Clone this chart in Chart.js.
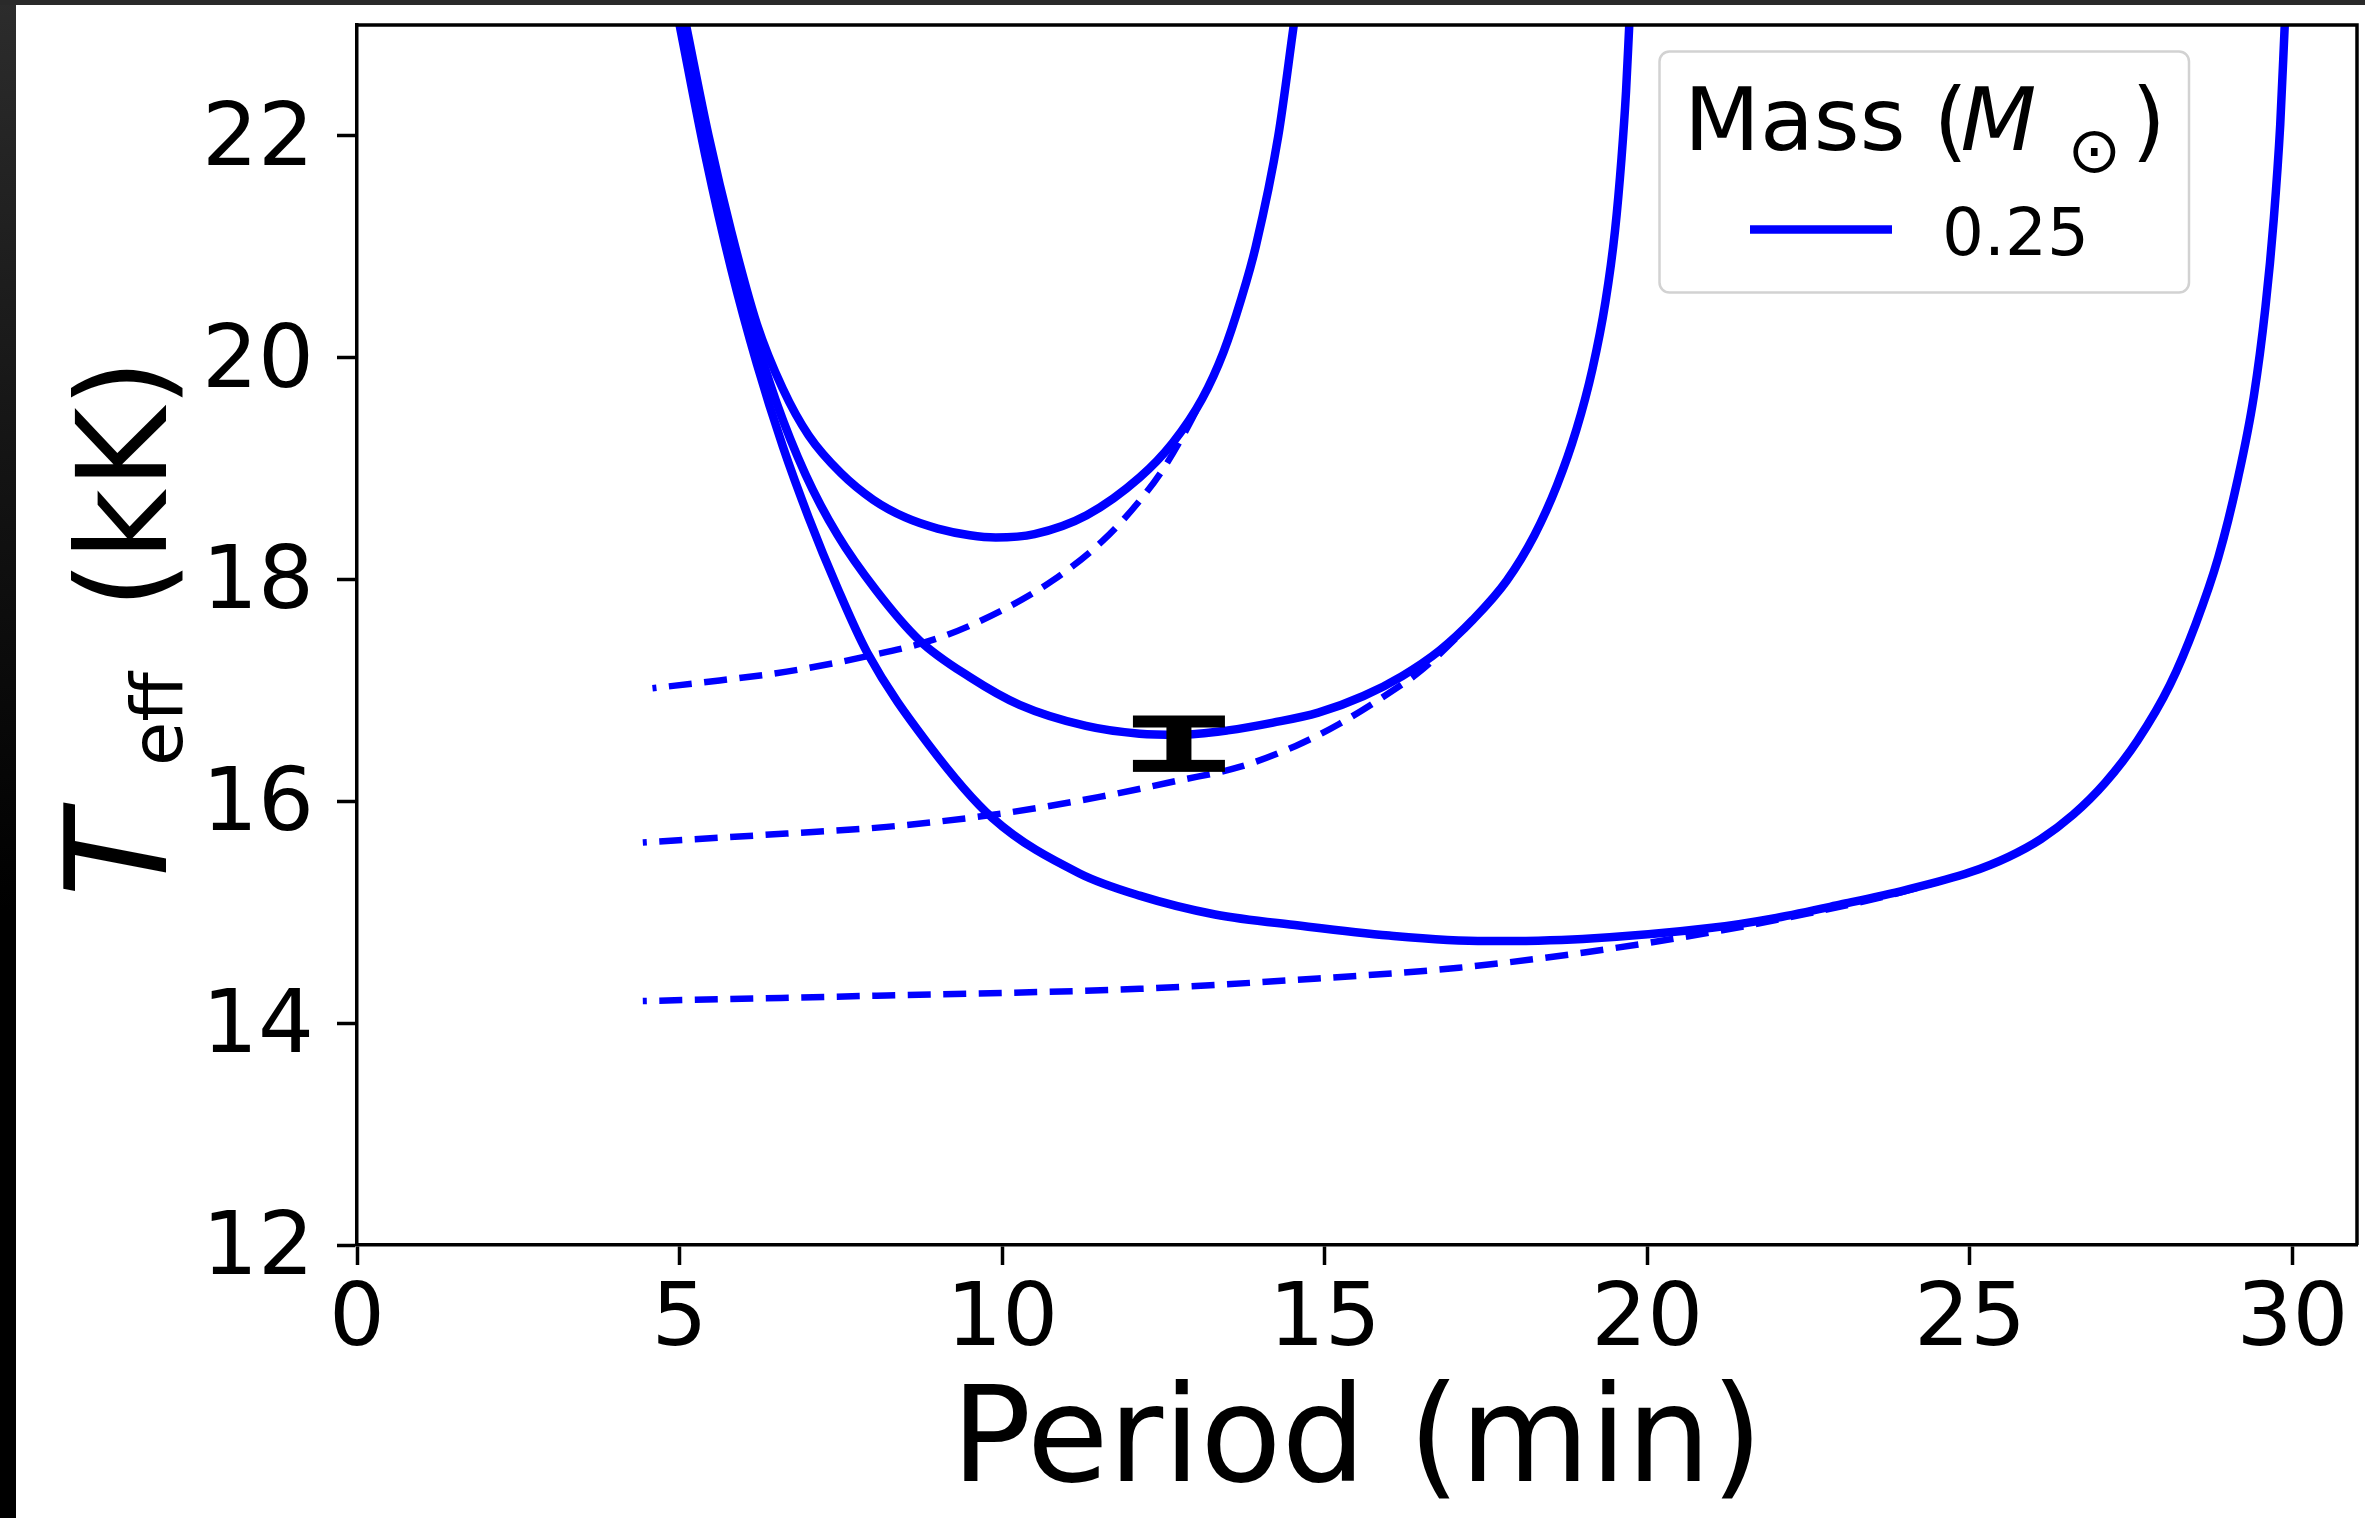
<!DOCTYPE html>
<html>
<head>
<meta charset="utf-8">
<script src="https://cdn.jsdelivr.net/npm/chart.js@4.4.1/dist/chart.umd.min.js"></script>
<style>
  html, body { margin: 0; padding: 0; background: #ffffff; }
  #wrap { position: relative; width: 2365px; height: 1518px; overflow: hidden; background: #ffffff; }
  #c { position: absolute; left: 0; top: 0; }
  #edgeL { position: absolute; left: 0; top: 0; width: 16px; height: 1518px;
           background: linear-gradient(to bottom, #2c2c2c 0%, #141414 30%, #000000 60%); }
  #edgeT { position: absolute; left: 0; top: 0; width: 2365px; height: 5px; background: #2a2a2a; }
</style>
</head>
<body>
<div id="wrap">
  <canvas id="c" width="2365" height="1518"></canvas>
  <div id="edgeL"></div>
  <div id="edgeT"></div>
</div>
<script>
// ---------------- data ----------------
const massLabel = '0.25';
const xTickValues = [0, 5, 10, 15, 20, 25, 30];
const yTickValues = [12, 14, 16, 18, 20, 22];

// solid tracks (period in min, Teff in kK)
const solidA_P = [5.10, 5.45, 5.80, 6.20, 6.60, 7.00, 7.50, 8.00, 8.50, 9.00, 9.50, 9.90, 10.50, 11.31, 12.13, 12.64, 13.10, 13.43, 13.70, 13.93, 14.28, 14.52];
const solidA_T = [23.0, 22.00, 21.14, 20.30, 19.72, 19.30, 18.96, 18.72, 18.56, 18.46, 18.40, 18.38, 18.41, 18.58, 18.92, 19.23, 19.63, 20.05, 20.52, 21.00, 22.00, 23.0];

const solidB_P = [5.05, 5.40, 5.75, 6.10, 6.50, 6.95, 7.45, 8.05, 8.72, 9.50, 10.27, 11.30, 12.13, 12.74, 13.50, 14.20, 14.90, 15.60, 16.20, 16.78, 17.30, 17.82, 18.25, 18.60, 18.90, 19.15, 19.35, 19.50, 19.60, 19.67, 19.72];
const solidB_T = [23.0, 22.00, 21.12, 20.34, 19.60, 18.95, 18.40, 17.90, 17.45, 17.12, 16.87, 16.68, 16.61, 16.60, 16.64, 16.71, 16.80, 16.95, 17.13, 17.36, 17.64, 17.99, 18.40, 18.85, 19.35, 19.90, 20.50, 21.15, 21.80, 22.40, 23.0];

const solidC_P = [5.00, 5.40, 5.80, 6.20, 6.60, 7.00, 7.45, 7.91, 8.85, 9.85, 11.20, 12.13, 13.30, 14.60, 16.00, 17.50, 19.00, 21.00, 22.00, 23.00, 24.00, 25.00, 25.60, 26.10, 26.60, 27.10, 27.60, 28.10, 28.50, 28.85, 29.15, 29.40, 29.58, 29.71, 29.81, 29.88];
const solidC_T = [23.0, 21.82, 20.80, 19.94, 19.20, 18.56, 17.92, 17.34, 16.52, 15.85, 15.35, 15.15, 14.98, 14.88, 14.79, 14.74, 14.76, 14.86, 14.95, 15.07, 15.20, 15.36, 15.50, 15.66, 15.88, 16.17, 16.55, 17.05, 17.60, 18.20, 18.90, 19.65, 20.45, 21.25, 22.10, 23.0];

// dashed tracks
const dashA_P = [4.58, 5.62, 6.66, 7.84, 9.00, 9.99, 10.78, 11.56, 12.13, 12.50, 12.90, 13.10];
const dashA_T = [17.02, 17.09, 17.17, 17.30, 17.47, 17.72, 17.99, 18.35, 18.71, 19.00, 19.40, 19.63];

const dashB_P = [4.43, 6.66, 8.21, 9.99, 11.51, 12.75, 13.68, 14.55, 15.23, 16.16, 16.43, 17.05, 17.30];
const dashB_T = [15.63, 15.71, 15.77, 15.89, 16.04, 16.19, 16.31, 16.50, 16.70, 17.04, 17.15, 17.48, 17.64];

const dashC_P = [4.43, 8.21, 12.13, 14.55, 17.08, 19.05, 21.00, 22.50, 24.00, 25.00];
const dashC_T = [14.20, 14.25, 14.31, 14.39, 14.50, 14.64, 14.82, 14.99, 15.19, 15.36];

// observed point with error bar
const obsP = [12.74];
const obsT = [16.52];
const obsTLow = [16.32];
const obsTHigh = [16.72];

// ---------------- styling ----------------
const BLUE = '#0000ff';
const FONT = 'DejaVu Sans';

function track(P, T) { return P.map((p, i) => ({ x: p, y: T[i] })); }

function solid(P, T, label) {
  return { label: label, data: track(P, T), borderColor: BLUE, backgroundColor: BLUE,
           borderWidth: 8.5, fill: false, pointRadius: 0, cubicInterpolationMode: 'monotone', clip: 0 };
}
function dashed(P, T) {
  return { label: '', data: track(P, T), borderColor: BLUE, backgroundColor: BLUE,
           borderWidth: 6.5, borderDash: [23, 12.5], borderDashOffset: 19,
           fill: false, pointRadius: 0, cubicInterpolationMode: 'monotone', clip: 0 };
}

const extras = {
  id: 'extras',
  afterDatasetsDraw(chart) {
    const { ctx, chartArea: ca, scales } = chart;
    const xs = scales.x, ys = scales.y;
    ctx.save();

    // error bar
    ctx.fillStyle = '#000';
    for (let i = 0; i < obsP.length; i++) {
      const x = xs.getPixelForValue(obsP[i]);
      const yt = ys.getPixelForValue(obsTHigh[i]);
      const yb = ys.getPixelForValue(obsTLow[i]);
      ctx.fillRect(x - 12.5, yt, 25, yb - yt);
      ctx.fillRect(x - 46, yt - 6, 92, 12);
      ctx.fillRect(x - 46, yb - 6, 92, 12);
    }

    // top and right spines
    ctx.strokeStyle = '#000';
    ctx.lineWidth = 3.5;
    ctx.beginPath();
    ctx.moveTo(ca.left, ca.top);
    ctx.lineTo(ca.right, ca.top);
    ctx.lineTo(ca.right, ca.bottom);
    ctx.stroke();

    // legend (inside axes, upper right)
    const bx = ca.right - 697.5, by = ca.top + 26.5, bw = 529.5, bh = 241;
    ctx.fillStyle = 'rgba(255,255,255,0.8)';
    ctx.strokeStyle = '#d2d2d2';
    ctx.lineWidth = 2.5;
    ctx.beginPath();
    ctx.roundRect(bx, by, bw, bh, 10);
    ctx.fill();
    ctx.stroke();

    ctx.fillStyle = '#000';
    ctx.textBaseline = 'alphabetic';
    ctx.textAlign = 'left';
    ctx.font = '88px "' + FONT + '"';
    ctx.fillText('Mass (', bx + 24.5, by + 98);
    ctx.font = 'italic 88px "' + FONT + '"';
    ctx.fillText('M', bx + 301, by + 98);
    ctx.font = '64px "' + FONT + '"';
    ctx.fillText('\u2299', bx + 408, by + 120);
    ctx.font = '88px "' + FONT + '"';
    ctx.fillText(')', bx + 472, by + 98);

    const ds = chart.data.datasets[0];
    ctx.strokeStyle = ds.borderColor;
    ctx.lineWidth = 8.5;
    ctx.beginPath();
    ctx.moveTo(bx + 90.5, by + 178);
    ctx.lineTo(bx + 232.5, by + 178);
    ctx.stroke();
    ctx.font = '66px "' + FONT + '"';
    ctx.fillText(ds.label, bx + 282.5, by + 203);

    ctx.restore();
  },
  afterDraw(chart) {
    // y-axis title: T_eff (kK)
    const { ctx, chartArea: ca } = chart;
    const cy = (ca.top + ca.bottom) / 2;
    ctx.save();
    ctx.translate(166, cy);
    ctx.rotate(-Math.PI / 2);
    ctx.fillStyle = '#000';
    ctx.textBaseline = 'alphabetic';
    ctx.textAlign = 'left';
    ctx.font = 'italic 140px "' + FONT + '"';
    ctx.fillText('T', -262, 0);
    ctx.font = '72px "' + FONT + '"';
    ctx.fillText('eff', -131, 16);
    ctx.font = '124px "' + FONT + '"';
    ctx.fillText('(kK)', 26, 0);
    ctx.restore();
  }
};

new Chart(document.getElementById('c'), {
  type: 'line',
  data: {
    datasets: [
      solid(solidA_P, solidA_T, massLabel),
      solid(solidB_P, solidB_T, massLabel),
      solid(solidC_P, solidC_T, massLabel),
      dashed(dashA_P, dashA_T),
      dashed(dashB_P, dashB_T),
      dashed(dashC_P, dashC_T)
    ]
  },
  options: {
    responsive: false,
    animation: false,
    devicePixelRatio: 1,
    layout: { padding: { top: 25, right: 8, bottom: 0, left: 0 }, autoPadding: false },
    plugins: { legend: { display: false }, tooltip: { enabled: false } },
    elements: { point: { radius: 0 } },
    scales: {
      x: {
        type: 'linear', min: 0, max: 31,
        afterBuildTicks: s => { s.ticks = xTickValues.map(v => ({ value: v })); },
        afterFit: s => { s.height = 273; s.paddingLeft = 0; s.paddingRight = 0; },
        ticks: { autoSkip: false, maxRotation: 0, padding: 4, color: '#000',
                 font: { family: FONT, size: 88 } },
        grid: { display: true, drawOnChartArea: false, drawTicks: true, tickLength: 20,
                tickWidth: 3.5, tickColor: '#000' },
        border: { display: true, color: '#000', width: 3.5 },
        title: { display: true, text: 'Period (min)', color: '#000',
                 font: { family: FONT, size: 133, lineHeight: 1 }, padding: { top: 0, bottom: 5 } }
      },
      y: {
        type: 'linear', min: 12, max: 23,
        afterBuildTicks: s => { s.ticks = yTickValues.map(v => ({ value: v })); },
        afterFit: s => { s.width = 357; s.paddingTop = 0; s.paddingBottom = 0; },
        ticks: { autoSkip: false, padding: 23, labelOffset: 6, color: '#000',
                 font: { family: FONT, size: 88 } },
        grid: { display: true, drawOnChartArea: false, drawTicks: true, tickLength: 20,
                tickWidth: 3.5, tickColor: '#000' },
        border: { display: true, color: '#000', width: 3.5 }
      }
    }
  },
  plugins: [extras]
});
</script>
</body>
</html>
